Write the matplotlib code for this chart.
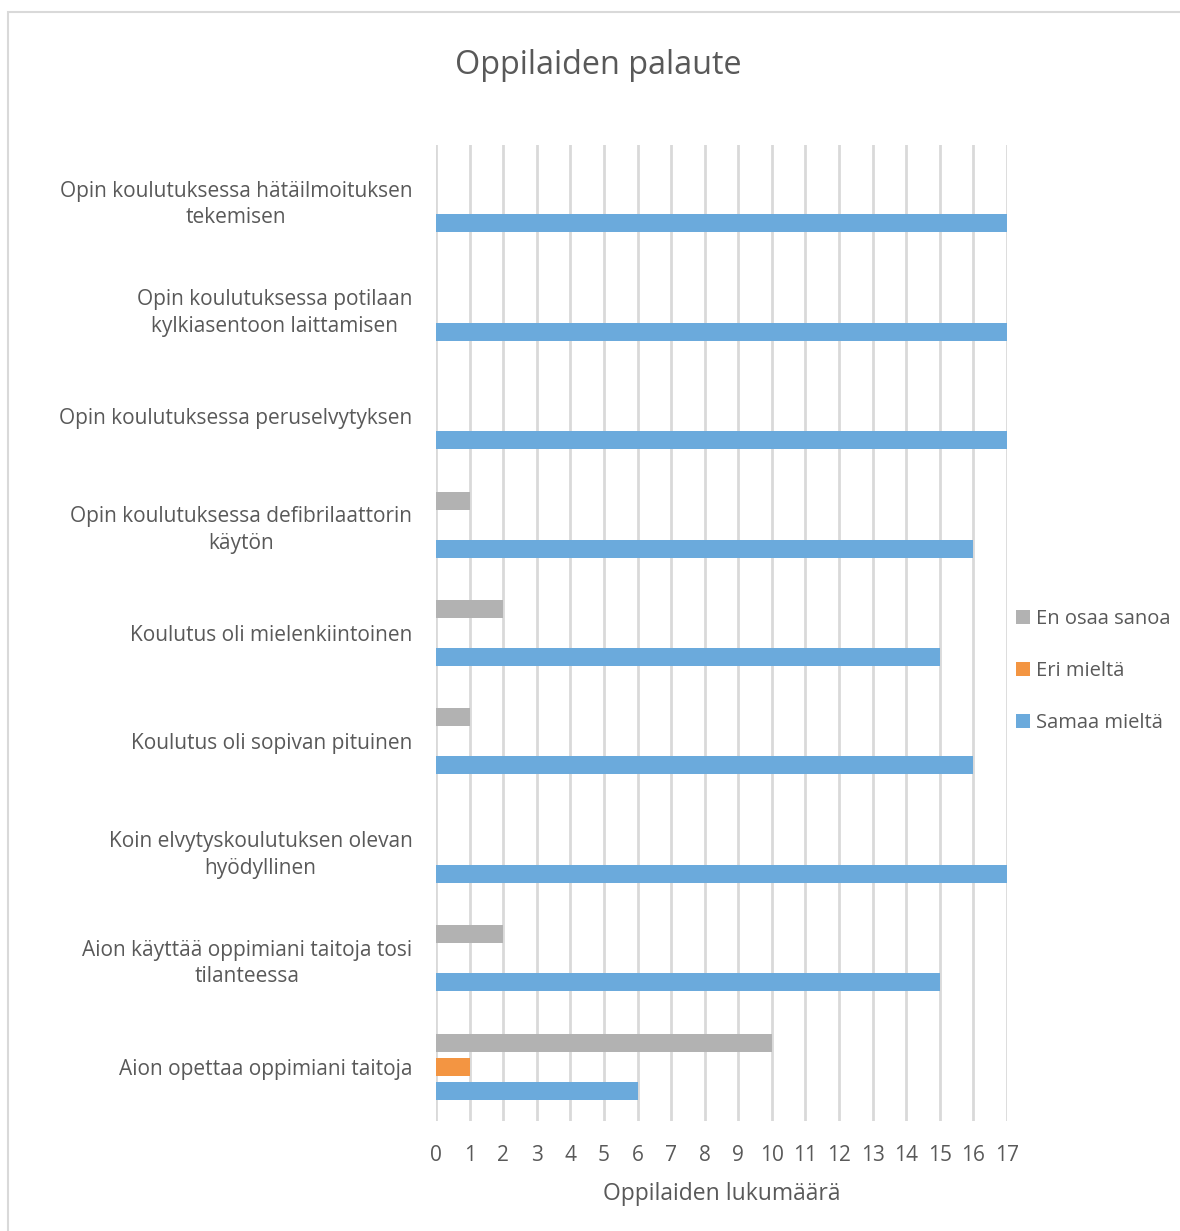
import numpy as np
import matplotlib.pyplot as plt
from matplotlib.patches import Rectangle

plt.rcParams['font.family'] = ['Open Sans', 'DejaVu Sans']

# statements, top to bottom
labels = [
    "Opin koulutuksessa hätäilmoituksen\ntekemisen",
    "Opin koulutuksessa potilaan\nkylkiasentoon laittamisen",
    "Opin koulutuksessa peruselvytyksen",
    "Opin koulutuksessa defibrilaattorin\nkäytön",
    "Koulutus oli mielenkiintoinen",
    "Koulutus oli sopivan pituinen",
    "Koin elvytyskoulutuksen olevan\nhyödyllinen",
    "Aion käyttää oppimiani taitoja tosi\ntilanteessa",
    "Aion opettaa oppimiani taitoja",
]
en_osaa = [0, 0, 0, 1, 2, 1, 0, 2, 10]
eri = [0, 0, 0, 0, 0, 0, 0, 0, 1]
samaa = [17, 17, 17, 16, 15, 16, 17, 15, 6]
xticks = list(range(0, 18))

txt = '#595959'
c_gray = '#B2B2B2'
c_orange = '#F39542'
c_blue = '#6BAADC'

fig = plt.figure(figsize=(11.8, 12.31), dpi=100)
# chart frame
fig.patches.append(Rectangle((8 / 1180, -0.01), 1.2, 1 - 12 / 1231 + 0.01,
                             transform=fig.transFigure, fill=False,
                             edgecolor='#D9D9D9', linewidth=1.5))

ax = fig.add_axes([436 / 1180, 1 - 1121 / 1231, 571 / 1180, 976 / 1231])
y = np.arange(len(labels))
off = 0.221
h = 0.166
series = [(en_osaa, c_gray, 'En osaa sanoa', -off),
          (eri, c_orange, 'Eri mieltä', 0),
          (samaa, c_blue, 'Samaa mieltä', off)]
for vals, col, name, d in series:
    v = np.array(vals, dtype=float)
    ax.barh(y + d, np.where(v > 0, v, np.nan), height=h, color=col,
            label=name, zorder=3)

ax.set_ylim(len(labels) - 0.5, -0.5)
ax.set_xlim(0, 17)
ax.set_xticks(xticks)
ax.set_yticks(y)
ax.set_yticklabels(labels, multialignment='center', linespacing=1.35)
ax.tick_params(axis='both', length=0, labelsize=15, colors=txt)
ax.tick_params(axis='y', pad=17)
ax.tick_params(axis='x', pad=17)
ax.grid(axis='x', color='#D9D9D9', linewidth=2, zorder=0)
for s in ax.spines.values():
    s.set_visible(False)
ax.set_xlabel('Oppilaiden lukumäärä', fontsize=16.5, color=txt, labelpad=12)

fig.text(598 / 1180, 1 - 65 / 1231, 'Oppilaiden palaute', ha='center',
         va='center', fontsize=23.3, color=txt)

handles, names = ax.get_legend_handles_labels()
leg = fig.legend(handles, names, loc='center left',
                 bbox_to_anchor=(1016 / 1180, 1 - 671 / 1231), frameon=False,
                 fontsize=14.5, handlelength=0.7, handleheight=0.7,
                 handletextpad=0.3, labelspacing=1.6, borderpad=0,
                 borderaxespad=0, labelcolor=txt)

fig.savefig('out.png', dpi=100)
